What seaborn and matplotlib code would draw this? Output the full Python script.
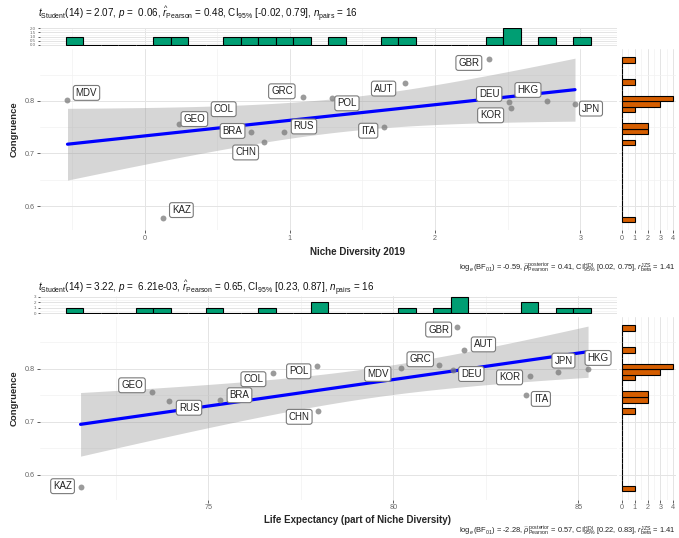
import numpy as np
import pandas as pd
import matplotlib
matplotlib.use("Agg")
import matplotlib.pyplot as plt
from matplotlib.ticker import MultipleLocator
import seaborn as sns

# ---- data -------------------------------------------------------------
countries = ["MDV", "KAZ", "GEO", "COL", "BRA", "CHN", "RUS", "GRC",
             "POL", "ITA", "AUT", "GBR", "DEU", "KOR", "HKG", "JPN"]
congruence = [0.802, 0.577, 0.756, 0.792, 0.741, 0.721, 0.740, 0.807,
              0.805, 0.751, 0.835, 0.880, 0.798, 0.786, 0.800, 0.795]
niche_diversity = [-0.53, 0.13, 0.24, 0.60, 0.73, 0.82, 0.96, 1.09,
                   1.29, 1.65, 1.79, 2.37, 2.51, 2.52, 2.77, 2.963]
life_expectancy = [80.20, 71.55, 73.48, 76.76, 75.33, 77.97, 73.94, 81.24,
                   77.93, 83.58, 81.92, 81.71, 81.62, 83.68, 85.26, 84.46]

subtitle_top = (r"$t_{\mathrm{Student}}$(14) = 2.07, $p$ =  0.06, "
                r"$\widehat{r}_{\mathrm{Pearson}}$ = 0.48, CI$_{95\%}$ [-0.02, 0.79], "
                r"$n_{\mathrm{pairs}}$ = 16")
caption_top = (r"$\log_{e}(\mathrm{BF}_{01})$ = -0.59, "
               r"$\widehat{\rho}_{\mathrm{Pearson}}^{\mathrm{posterior}}$ = 0.41, "
               r"CI$_{95\%}^{\mathrm{HDI}}$ [0.02, 0.75], $r_{\mathrm{beta}}^{\mathrm{JZS}}$ = 1.41")
subtitle_bottom = (r"$t_{\mathrm{Student}}$(14) = 3.22, $p$ =  6.21e-03, "
                   r"$\widehat{r}_{\mathrm{Pearson}}$ = 0.65, CI$_{95\%}$ [0.23, 0.87], "
                   r"$n_{\mathrm{pairs}}$ = 16")
caption_bottom = (r"$\log_{e}(\mathrm{BF}_{01})$ = -2.28, "
                  r"$\widehat{\rho}_{\mathrm{Pearson}}^{\mathrm{posterior}}$ = 0.57, "
                  r"CI$_{95\%}^{\mathrm{HDI}}$ [0.22, 0.83], $r_{\mathrm{beta}}^{\mathrm{JZS}}$ = 1.41")
xlabel_top = "Niche Diversity 2019"
xlabel_bottom = "Life Expectancy (part of Niche Diversity)"
ylabel = "Congruence"

df = pd.DataFrame({"country": countries, "congruence": congruence,
                   "niche": niche_diversity, "life": life_expectancy})

# ---- style ------------------------------------------------------------
sns.set_theme(style="white")
plt.rcParams["font.family"] = ["Liberation Sans", "DejaVu Sans"]
plt.rcParams["mathtext.fontset"] = "custom"
plt.rcParams["mathtext.rm"] = "Liberation Sans"
plt.rcParams["mathtext.it"] = "Liberation Sans:italic"
plt.rcParams["mathtext.bf"] = "Liberation Sans:bold"

W, H, DPI = 679, 538, 100
PT = 72 / DPI  # points per pixel

XFILL, YFILL = "#009E73", "#D55E00"
GRID_MAJ, GRID_MIN = "#E4E4E4", "#F1F1F1"

fig = plt.figure(figsize=(W / DPI, H / DPI), dpi=DPI)


def box(l, t, r, b):
    return [l / W, 1 - b / H, (r - l) / W, (b - t) / H]


def gg_breaks(values, bins=30):
    """Histogram breaks following ggplot2's stat_bin(bins = 30) rule."""
    v = np.asarray(values, float)
    lo, hi = v.min(), v.max()
    w = (hi - lo) / (bins - 1)
    boundary = w / 2
    origin = boundary + np.floor((lo - boundary) / w) * w
    max_x = hi + (1 - 1e-8) * w
    n = int(np.floor((max_x - origin) / w + 1e-9)) + 1
    br = origin + w * np.arange(n)
    if len(br) > 2 and br[-2] >= hi:
        br = br[:-1]
    return br


def expand(lo, hi, f=0.05):
    d = hi - lo
    return lo - f * d, hi + f * d


def style_axis(ax):
    for s in ax.spines.values():
        s.set_visible(False)
    ax.set_facecolor("white")
    ax.grid(which="major", color=GRID_MAJ, lw=0.7)
    ax.grid(which="minor", color=GRID_MIN, lw=0.5)
    ax.set_axisbelow(True)
    ax.tick_params(which="major", length=2, width=0.6, color="#444444",
                   labelsize=5.2, labelcolor="#666666", pad=1.5)
    ax.tick_params(which="minor", length=0)
    ax.set_xlabel("")
    ax.set_ylabel("")


def draw_band(ax, x, y, n=80):
    x = np.asarray(x, float)
    y = np.asarray(y, float)
    b1, b0 = np.polyfit(x, y, 1)
    xs = np.linspace(x.min(), x.max(), n)
    resid = y - (b0 + b1 * x)
    s = np.sqrt(np.sum(resid ** 2) / (len(x) - 2))
    se = s * np.sqrt(1 / len(x) + (xs - x.mean()) ** 2 / np.sum((x - x.mean()) ** 2))
    tcrit = 2.1448  # t quantile 0.975, df = 14
    fit = b0 + b1 * xs
    ax.fill_between(xs, fit - tcrit * se, fit + tcrit * se,
                    color="#999999", alpha=0.4, lw=0, zorder=1)


def panel(xcol, geo, x_major, x_minor, hist_major, hist_minor, offsets):
    main_ax = fig.add_axes(box(*geo["main"]))
    xh_ax = fig.add_axes(box(*geo["xhist"]))
    yh_ax = fig.add_axes(box(*geo["yhist"]))

    xb = gg_breaks(df[xcol])
    yb = gg_breaks(df["congruence"])
    xlim = expand(min(xb[0], df[xcol].min()), max(xb[-1], df[xcol].max()))
    ylim = expand(min(yb[0], df["congruence"].min()), max(yb[-1], df["congruence"].max()))

    # marginal histograms
    sns.histplot(data=df, x=xcol, bins=xb, ax=xh_ax, color=XFILL, alpha=1,
                 edgecolor="black", linewidth=0.8, zorder=2)
    sns.histplot(data=df, y="congruence", bins=yb, ax=yh_ax, color=YFILL, alpha=1,
                 edgecolor="black", linewidth=0.8, zorder=2)
    xcounts, _ = np.histogram(df[xcol], bins=xb)
    ycounts, _ = np.histogram(df["congruence"], bins=yb)

    # regression band, line and points
    draw_band(main_ax, df[xcol], df["congruence"])
    sns.regplot(data=df, x=xcol, y="congruence", ax=main_ax, scatter=False, ci=None,
                color="blue", line_kws={"lw": 2.3, "zorder": 3})
    sns.scatterplot(data=df, x=xcol, y="congruence", ax=main_ax, color="#7a7a7a",
                    s=18, alpha=0.75, linewidth=0, zorder=4)

    for name, xv, yv in zip(df["country"], df[xcol], df["congruence"]):
        dx, dy = offsets[name]
        main_ax.annotate(name, xy=(xv, yv), xytext=(dx * PT, -dy * PT),
                         textcoords="offset points", ha="center", va="center",
                         fontsize=7, color="#222222", zorder=5,
                         bbox=dict(boxstyle="round,pad=0.25,rounding_size=0.25",
                                   fc="white", ec="#7a7a7a", lw=0.8))

    for ax in (main_ax, xh_ax, yh_ax):
        style_axis(ax)

    main_ax.set_xlim(xlim)
    main_ax.set_ylim(ylim)
    main_ax.xaxis.set_major_locator(MultipleLocator(x_major))
    main_ax.xaxis.set_minor_locator(MultipleLocator(x_minor))
    main_ax.yaxis.set_major_locator(MultipleLocator(0.1))
    main_ax.yaxis.set_minor_locator(MultipleLocator(0.05))
    main_ax.tick_params(bottom=True, left=True)

    xh_ax.set_xlim(xlim)
    xh_ax.set_ylim(expand(0, xcounts.max()))
    xh_ax.xaxis.set_major_locator(MultipleLocator(x_major))
    xh_ax.xaxis.set_minor_locator(MultipleLocator(x_minor))
    xh_ax.yaxis.set_major_locator(MultipleLocator(hist_major))
    xh_ax.yaxis.set_minor_locator(MultipleLocator(hist_minor))
    xh_ax.tick_params(bottom=False, labelbottom=False, left=True, labelsize=3.2,
                      length=1.2)

    yh_ax.set_ylim(ylim)
    yh_ax.set_xlim(expand(0, ycounts.max()))
    yh_ax.yaxis.set_major_locator(MultipleLocator(0.1))
    yh_ax.yaxis.set_minor_locator(MultipleLocator(0.05))
    yh_ax.xaxis.set_major_locator(MultipleLocator(1))
    yh_ax.xaxis.set_minor_locator(MultipleLocator(0.5))
    yh_ax.tick_params(left=False, labelleft=False, bottom=True)
    return main_ax


# label placement (pixels right / down from each point)
top_offsets = {"MDV": (19, -7), "GRC": (-21, -6), "COL": (-8, 4), "GEO": (15, -5),
               "BRA": (-18, -1), "RUS": (20, -6), "CHN": (-18, 10), "KAZ": (18, -8),
               "POL": (15, 5), "AUT": (-21, 6), "ITA": (-16, 4), "DEU": (-20, -8),
               "HKG": (-19, -11), "KOR": (-20, 7), "JPN": (16, 5), "GBR": (-20, 4)}
bottom_offsets = {"KAZ": (-18, -1), "GEO": (-20, -7), "RUS": (20, 7), "BRA": (19, -5),
                  "COL": (-20, 6), "POL": (-18, 5), "CHN": (-19, 6), "GBR": (-18, 3),
                  "AUT": (19, -6), "GRC": (-19, -6), "MDV": (-23, 6), "DEU": (18, 4),
                  "KOR": (-20, 1), "ITA": (15, 4), "JPN": (5, -11), "HKG": (10, -11)}

geo_top = {"main": (39.5, 49.2, 617, 230.3), "xhist": (39.5, 27.5, 617, 45.8),
           "yhist": (619.1, 49.2, 675.9, 230.3)}
geo_bottom = {"main": (39.5, 316.7, 617, 499.5), "xhist": (39.5, 296.0, 617, 314.1),
              "yhist": (619.1, 316.7, 675.9, 499.5)}

panel("niche", geo_top, 1, 0.5, 0.5, 0.25, top_offsets)
panel("life", geo_bottom, 5, 2.5, 1, 0.5, bottom_offsets)

# ---- texts ------------------------------------------------------------
def fig_text(x, y, s, **kw):
    fig.text(x / W, 1 - y / H, s, **kw)

fig_text(38, 14, subtitle_top, ha="left", va="center", fontsize=7.1, color="#111111")
fig_text(358, 252, xlabel_top, ha="center", va="center", fontsize=7, fontweight="bold")
fig_text(676, 268, caption_top, ha="right", va="center", fontsize=5.4, color="#222222")
fig_text(14, 128.7, ylabel, ha="center", va="center", rotation=90, fontsize=6.8,
         fontweight="bold")

fig_text(38, 288, subtitle_bottom, ha="left", va="center", fontsize=7.1, color="#111111")
fig_text(358, 520, xlabel_bottom, ha="center", va="center", fontsize=7, fontweight="bold")
fig_text(676, 531, caption_bottom, ha="right", va="center", fontsize=5.4, color="#222222")
fig_text(14, 397.7, ylabel, ha="center", va="center", rotation=90, fontsize=6.8,
         fontweight="bold")

fig.savefig("out.png", dpi=DPI, facecolor="white")
